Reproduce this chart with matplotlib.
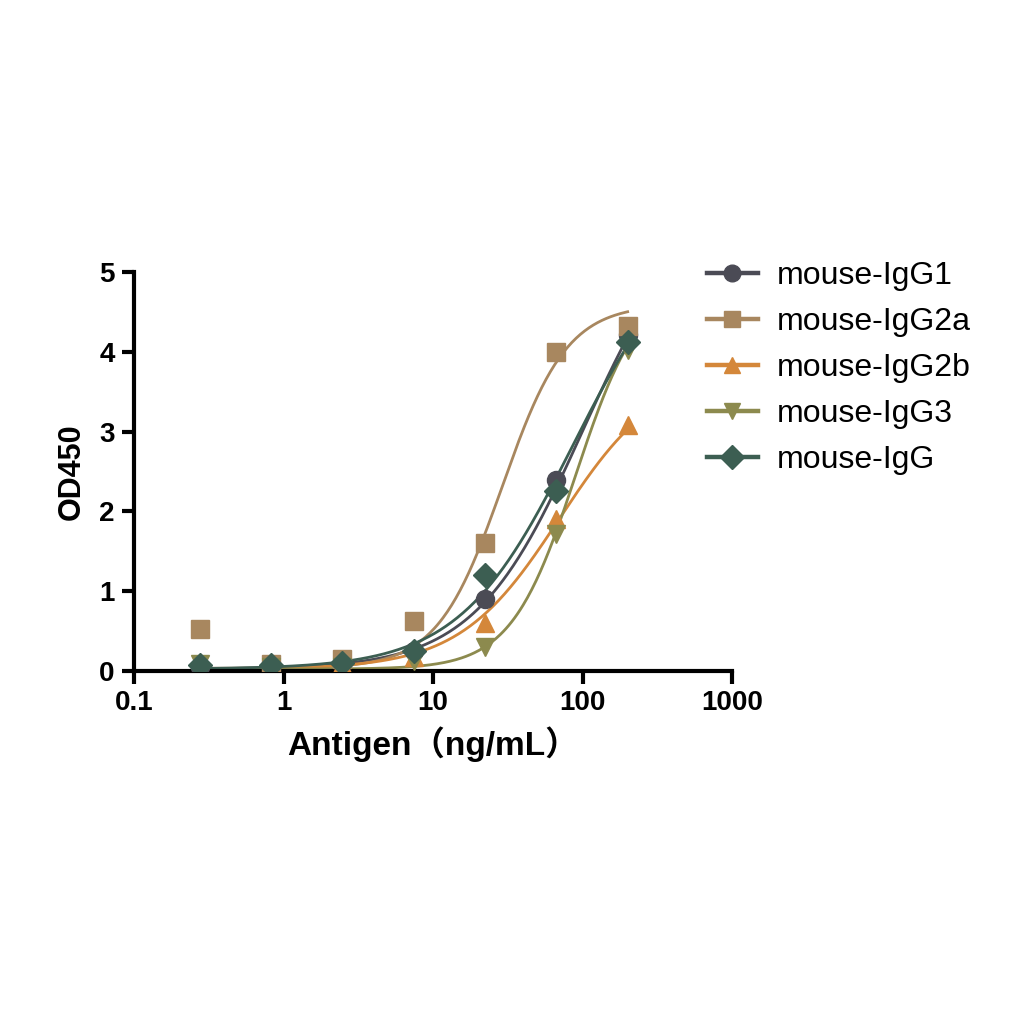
import matplotlib
matplotlib.use('Agg')
import matplotlib.pyplot as plt
import numpy as np

plt.rcParams['font.family'] = ['Liberation Sans', 'Noto Sans CJK SC', 'DejaVu Sans']

# 数据：3倍稀释
conc = [0.274, 0.823, 2.47, 7.41, 22.2, 66.7, 200]
names = ['mouse-IgG1', 'mouse-IgG2a', 'mouse-IgG2b', 'mouse-IgG3', 'mouse-IgG']
od_igg1 = [0.05, 0.05, 0.10, 0.25, 0.90, 2.40, 4.22]
od_igg2a = [0.52, 0.08, 0.15, 0.62, 1.60, 4.00, 4.33]
od_igg2b = [0.02, 0.05, 0.09, 0.17, 0.60, 1.90, 3.08]
od_igg3 = [0.08, 0.05, 0.05, 0.12, 0.30, 1.72, 4.02]
od_igg = [0.07, 0.07, 0.10, 0.25, 1.20, 2.25, 4.12]

# 4PL拟合参数（从图上估计）: bottom, top, EC50, hill
fit_bottom = [0.02, 0.03, 0.02, 0.02, 0.02]
fit_top = [6.0, 4.6, 3.8, 4.9, 5.6]
fit_ec50 = [100, 29, 70, 90, 85]
fit_hill = [1.2, 2.0, 1.3, 2.0, 1.15]

colors = ['#4b4b55', '#a8875f', '#d4873a', '#8c8a4e', '#3c5e52']
markers = ['o', 's', '^', 'v', 'D']
msizes = [13, 13, 13, 13, 12]

series = [od_igg1, od_igg2a, od_igg2b, od_igg3, od_igg]

fig = plt.figure(figsize=(10.24, 10.24), dpi=100)
ax = fig.add_axes([0.131, 0.345, 0.584, 0.389])

xs = np.logspace(np.log10(conc[0]), np.log10(conc[-1]), 300)
for i, ys in enumerate(series):
    b, t, c, h = fit_bottom[i], fit_top[i], fit_ec50[i], fit_hill[i]
    curve = b + (t - b) / (1 + (c / xs) ** h)
    ax.plot(xs, curve, color=colors[i], lw=2.0, zorder=2)
    ax.plot(conc, ys, linestyle='none', marker=markers[i], ms=msizes[i],
            color=colors[i], zorder=3)
    # 图例句柄
    ax.plot([], [], color=colors[i], lw=3.2, marker=markers[i], ms=12,
            label=names[i])

ax.set_xscale('log')
ax.set_xlim(0.1, 1000)
ax.set_ylim(0, 5)
ax.set_yticks([0, 1, 2, 3, 4, 5])
ax.set_xticks([0.1, 1, 10, 100, 1000])
ax.set_xticklabels(['0.1', '1', '10', '100', '1000'])
ax.minorticks_off()

for s in ['top', 'right']:
    ax.spines[s].set_visible(False)
for s in ['left', 'bottom']:
    ax.spines[s].set_linewidth(3)
ax.tick_params(width=3, length=9, direction='out', labelsize=20, pad=5)
for lab in ax.get_xticklabels() + ax.get_yticklabels():
    lab.set_fontweight('bold')

ax.set_xlabel('Antigen（ng/mL）', fontsize=24, fontweight='bold', labelpad=7)
ax.set_ylabel('OD450', fontsize=22, fontweight='bold', labelpad=9)

ax.legend(loc='upper left', bbox_to_anchor=(0.936, 1.06), frameon=False,
          fontsize=23, handlelength=1.6, labelspacing=0.5, borderaxespad=0,
          handletextpad=0.6)

plt.savefig('out.png', dpi=100)
